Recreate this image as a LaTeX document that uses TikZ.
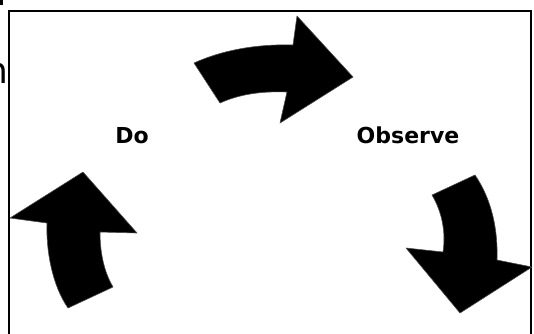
\documentclass[tikz,border=0pt]{standalone}
\usepackage{fontspec}
\setmainfont{DejaVu Sans}
\begin{document}
\begin{tikzpicture}[x=1pt,y=-1pt,
  arrowshape/.style={fill=black,draw=black!70,line width=0.6pt,line join=round},
  frameline/.style={draw=black,line width=2pt},
  label/.style={font=\fontsize{22}{24}\selectfont\bfseries,inner sep=0pt}]
\useasboundingbox (0,0) rectangle (534,333);
\clip (0,0) rectangle (534,333);
\fill[white] (0,0) rectangle (534,333);
% frame
\draw[frameline] (9,340) -- (9,11) -- (531,11) -- (531,340);
% stray marks at left
\fill[black] (0,0) rectangle (3,5);
\node[anchor=base east,inner sep=0pt,font=\fontsize{36}{38}\selectfont] (nfrag) at (9,83) {n};
% top arrow
\path[arrowshape] (194,63) .. controls (225,49) and (260,44) .. (293,45)
  -- (297,16) -- (353,77) -- (280,123) -- (287,92)
  .. controls (262,91) and (240,94) .. (220,103) -- cycle;
% right arrow
\path[arrowshape] (432,195) -- (475,175) .. controls (492,200) and (498,230) .. (497,260)
  -- (532,267) -- (460,313) -- (406,248) -- (443,252)
  .. controls (446,232) and (442,212) .. (432,195) -- cycle;
% left arrow
\path[arrowshape] (68,308) -- (113,287) .. controls (103,270) and (100,250) .. (100,232)
  -- (137,233) -- (83,172) -- (10,218) -- (47,223)
  .. controls (46,250) and (52,285) .. (68,308) -- cycle;
% labels
\node[label] (do) at (132,136) {Do};
\node[label] (observe) at (408,135) {Observe};
\end{tikzpicture}
\end{document}
